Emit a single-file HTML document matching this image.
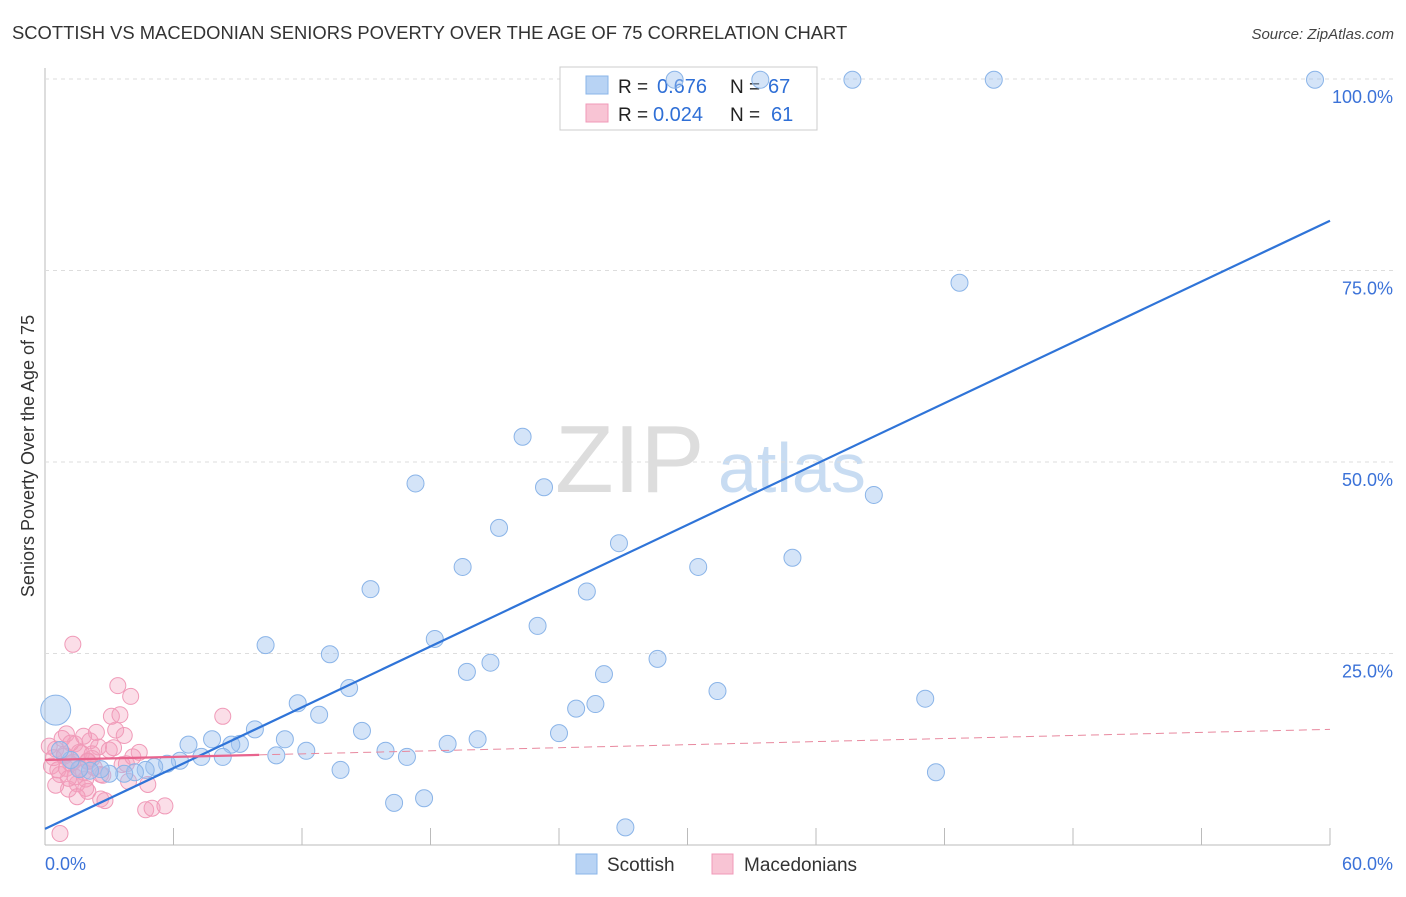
<!DOCTYPE html>
<html><head><meta charset="utf-8"><style>
body{margin:0;background:#fff;font-family:"Liberation Sans",sans-serif}
svg text{font-family:"Liberation Sans",sans-serif}
</style></head><body>
<svg id="c" width="1406" height="892">
<text x="12" y="39" font-size="18.4" fill="#333">SCOTTISH VS MACEDONIAN SENIORS POVERTY OVER THE AGE OF 75 CORRELATION CHART</text>
<text x="1394" y="39" font-size="15" fill="#444" text-anchor="end" font-style="italic">Source: ZipAtlas.com</text>
<text x="34" y="456" font-size="18" fill="#333" text-anchor="middle" transform="rotate(-90 34 456)">Seniors Poverty Over the Age of 75</text>
<text x="555" y="492" font-size="96" fill="#ddd" font-family="Liberation Serif">ZIP</text>
<text x="718" y="492" font-size="70" fill="#c8dcf2">atlas</text>
<g id="grid"></g>
<g>
<rect x="560" y="67" width="257" height="63" fill="#fff" stroke="#ccc"/>
<rect x="586" y="76" width="22" height="18" fill="#b8d3f4" stroke="#8ab4e8"/>
<rect x="586" y="104" width="22" height="18" fill="#f8c4d4" stroke="#f09ab8"/>
<text x="618" y="93" font-size="19" fill="#222">R =</text>
<text x="657" y="93" font-size="20" fill="#2f6fd6">0.676</text>
<text x="730" y="93" font-size="19" fill="#222">N =</text>
<text x="768" y="93" font-size="20" fill="#2f6fd6">67</text>
<text x="618" y="121" font-size="19" fill="#222">R =</text>
<text x="653" y="121" font-size="20" fill="#2f6fd6">0.024</text>
<text x="730" y="121" font-size="19" fill="#222">N =</text>
<text x="771" y="121" font-size="20" fill="#2f6fd6">61</text>
</g>
<g id="pts"></g><g id="lines"></g>
<g>
<rect x="576" y="854" width="21" height="20" fill="#b8d3f4" stroke="#8ab4e8"/>
<text x="607" y="871" font-size="19" fill="#333">Scottish</text>
<rect x="712" y="854" width="21" height="20" fill="#f8c4d4" stroke="#f09ab8"/>
<text x="744" y="871" font-size="19" fill="#333">Macedonians</text>
</g>
</svg>
<script>
const xTicks=[0,60];
const yTicks=[25,50,75,100];
const blueX=[0.5,29.4,33.4,37.7,44.3,59.3,42.7,22.3,17.3,23.3,38.7,21.2,26.8,19.5,30.5,34.9,15.2,25.3,23.0,10.3,18.2,13.3,28.6,20.8,19.7,26.1,14.2,31.4,41.1,11.8,25.7,24.8,12.8,9.8,14.8,24.0,7.8,11.2,20.2,18.8,6.7,9.1,8.7,12.2,8.3,15.9,16.9,10.8,7.3,6.3,5.7,5.1,4.7,4.2,3.7,3.0,2.6,2.1,1.6,13.8,41.6,16.3,17.7,27.1,1.2,0.7];
const blueY=[17.6,99.9,99.9,99.9,99.9,99.9,73.4,53.3,47.2,46.7,45.7,41.4,39.4,36.3,36.3,37.5,33.4,33.1,28.6,26.1,26.9,24.9,24.3,23.8,22.6,22.3,20.5,20.1,19.1,18.5,18.4,17.8,17.0,15.1,14.9,14.6,13.8,13.8,13.8,13.2,13.1,13.2,13.1,12.3,11.5,12.3,11.5,11.7,11.5,11.0,10.6,10.2,9.8,9.5,9.3,9.3,9.9,9.7,9.9,9.8,9.5,5.5,6.1,2.3,11.1,12.4];
const pinkX=[0.3,0.5,0.7,0.9,1.0,1.2,1.4,1.5,1.6,1.8,2.0,2.1,2.3,2.5,0.4,0.6,0.8,1.1,1.3,1.7,1.9,2.2,2.4,2.7,3.0,3.3,3.6,3.9,0.5,0.9,1.2,1.6,2.0,2.6,3.1,3.5,4.0,4.4,1.0,1.4,1.8,2.2,2.8,3.4,4.7,5.0,5.6,8.3,1.3,1.9,2.6,3.2,3.8,0.7,1.1,1.5,2.0,3.7,4.1,4.8,0.2];
const pinkY=[10.3,12.5,9.2,11.8,14.5,10.6,13.2,8.0,12.1,9.5,11.0,13.6,10.1,12.8,11.4,9.8,13.9,7.3,10.8,12.0,8.6,11.3,14.7,9.1,12.4,15.0,10.5,8.3,7.8,11.6,13.3,9.9,7.0,6.0,16.8,17.0,19.4,12.1,10.0,8.9,14.2,11.9,5.8,20.8,4.6,4.8,5.1,16.8,26.2,7.4,9.2,12.7,10.6,1.5,8.7,6.3,10.9,14.3,11.5,7.9,12.9];
const blueLine=[2.1,81.5];
const pinkLine=[11.1,15.1];
const X=v=>45+v/60*1285, Y=v=>845-v/100*766;
const ns="http://www.w3.org/2000/svg";
function mk(t,a,p){const e=document.createElementNS(ns,t);for(const k in a)e.setAttribute(k,a[k]);p.appendChild(e);return e;}
const grid=document.getElementById('grid'),pts=document.getElementById('pts'),lines=document.getElementById('lines');
const ax=mk('line',{x1:45,y1:68,x2:45,y2:845,stroke:'#bbb'},grid);


const bx=mk('line',{x1:45,y1:845,x2:1330,y2:845,stroke:'#bbb'},grid);


for(let i=0;i<=10;i++){const t=mk('line',{x1:X(i*6),y1:828,x2:X(i*6),y2:845,stroke:'#bbb'},grid);

}
yTicks.forEach(v=>{const g=mk('line',{x1:45,y1:Y(v),x2:1395,y2:Y(v),stroke:'#ddd','stroke-dasharray':'4,4'},grid);


const t=mk('text',{x:1393,y:Y(v)+24,'font-size':18,fill:'#3b72d8','text-anchor':'end'},grid);t.textContent=v.toFixed(1)+'%';

});
xTicks.forEach((v,i)=>{const t=mk('text',{x:i?1393:45,y:870,'font-size':18,fill:'#3b72d8','text-anchor':i?'end':'start'},grid);t.textContent=v.toFixed(1)+'%';

});
pinkX.forEach((v,i)=>{const c=mk('circle',{cx:X(v),cy:Y(pinkY[i]),r:8,fill:'rgba(244,160,190,0.35)',stroke:'#f09ab8','stroke-width':1},pts);

});
blueX.forEach((v,i)=>{const c=mk('circle',{cx:X(v),cy:Y(blueY[i]),r:i==0?15:8.5,fill:'rgba(160,196,240,0.45)',stroke:'#8ab4e8','stroke-width':1},pts);

});
const bl=mk('line',{x1:X(0),y1:Y(blueLine[0]),x2:X(60),y2:Y(blueLine[1]),stroke:'#2f74d8','stroke-width':2.2},lines);


const pm=v=>pinkLine[0]+(pinkLine[1]-pinkLine[0])*v/60;
const pl=mk('line',{x1:X(0),y1:Y(pm(0)),x2:X(10),y2:Y(pm(10)),stroke:'#e8648e','stroke-width':2.2},lines);


const pd=mk('line',{x1:X(10),y1:Y(pm(10)),x2:X(60),y2:Y(pm(60)),stroke:'#e8889e','stroke-width':1,'stroke-dasharray':'8,5'},lines);


</script>
</body></html>
